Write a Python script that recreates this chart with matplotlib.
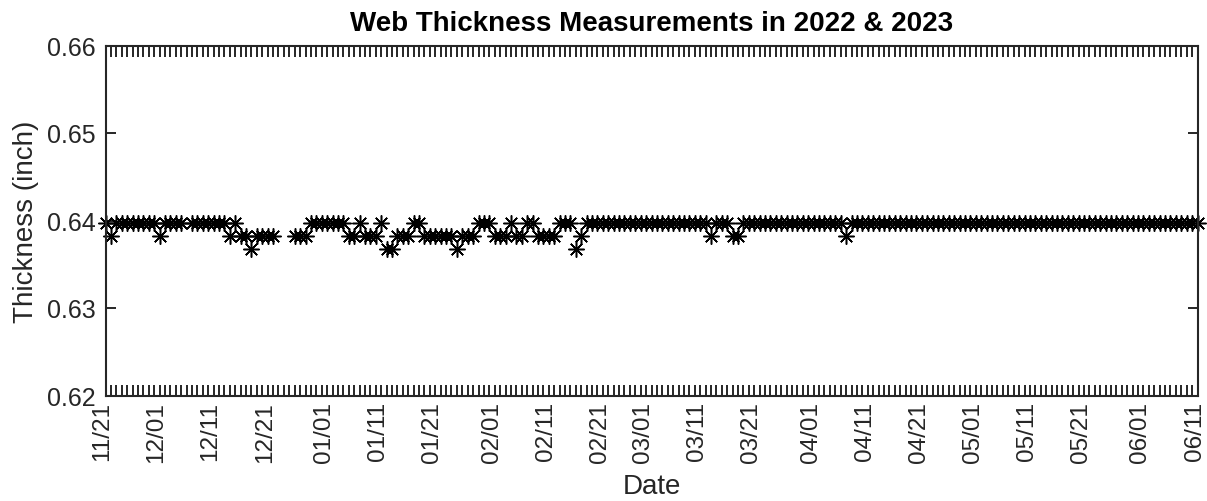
import numpy as np
import pandas as pd
import matplotlib
matplotlib.use("Agg")
import matplotlib.pyplot as plt
import matplotlib.dates as mdates
import matplotlib.transforms as mtransforms

plt.rcParams['font.family'] = ['Liberation Sans', 'DejaVu Sans']

# measurement levels (inch)
H = 0.6397
M = 0.6382
L = 0.6367
N = np.nan  # no measurement

start_date = "2022-11-21"
thickness = [
    H, M, H, H, H, H, H, H, H, H,
    M, H, H, H, H, N, H, H, H, H,
    H, H, H, M, H, M, M, L, M, M,
    M, M, N, N, N, M, M, M, H, H,
    H, H, H, H, H, M, M, H, M, M,
    M, H, L, L, M, M, M, H, H, M,
    M, M, M, M, M, L, M, M, M, H,
    H, H, M, M, M, H, M, M, H, H,
    M, M, M, M, H, H, H, L, M, H,
    H, H, H, H, H, H, H, H, H, H,
    H, H, H, H, H, H, H, H, H, H,
    H, H, M, H, H, H, M, M, H, H,
    H, H, H, H, H, H, H, H, H, H,
    H, H, H, H, H, H, H, M, H, H,
    H, H, H, H, H, H, H, H, H, H,
    H, H, H, H, H, H, H, H, H, H,
    H, H, H, H, H, H, H, H, H, H,
    H, H, H, H, H, H, H, H, H, H,
    H, H, H, H, H, H, H, H, H, H,
    H, H, H, H, H, H, H, H, H, H,
    H, H, H,
]
dates = pd.date_range(start_date, periods=len(thickness), freq="D")

title = "Web Thickness Measurements in 2022 & 2023"
xlabel = "Date"
ylabel = "Thickness (inch)"
yticks = [0.62, 0.63, 0.64, 0.65, 0.66]

axc = "#262626"
fig = plt.figure(figsize=(12.07, 5.02), dpi=100)
ax = fig.add_axes([105.5 / 1207, 1 - 396.5 / 502, 1092 / 1207, 350 / 502])

ax.plot(dates, thickness, linestyle="none", marker=(8, 2, 0), markersize=11.5,
        markeredgewidth=1.1, color="black", clip_on=False)

ax.set_xlim(dates[0], dates[-1])
ax.set_ylim(0.62, 0.66)
ax.set_yticks(yticks)
ax.set_yticklabels([f"{v:.2f}" for v in yticks])

ax.xaxis.set_major_locator(mdates.DayLocator(bymonthday=[1, 11, 21]))
ax.xaxis.set_major_formatter(mdates.DateFormatter("%m/%d"))
ax.xaxis.set_minor_locator(mdates.DayLocator())

for s in ax.spines.values():
    s.set_color(axc)
    s.set_linewidth(1.5)

ax.tick_params(axis="x", which="both", direction="in", top=True, bottom=True,
               length=8, width=1.4, color=axc, labelcolor=axc, labelsize=17.5,
               labelrotation=90, pad=4)
ax.tick_params(axis="y", which="both", direction="in", left=True, right=True,
               length=7.5, width=1.4, color=axc, labelcolor=axc, labelsize=18, pad=7)

shift = mtransforms.ScaledTranslation(-3 / 100, 0, fig.dpi_scale_trans)
for lab in ax.get_xticklabels():
    lab.set_transform(lab.get_transform() + shift)

ax.set_title(title, fontsize=20, fontweight="bold", color="black", pad=11)
ax.set_xlabel(xlabel, fontsize=20, color=axc, labelpad=8)
ax.set_ylabel(ylabel, fontsize=20, color=axc, labelpad=6)

fig.savefig("out.png", dpi=100)
